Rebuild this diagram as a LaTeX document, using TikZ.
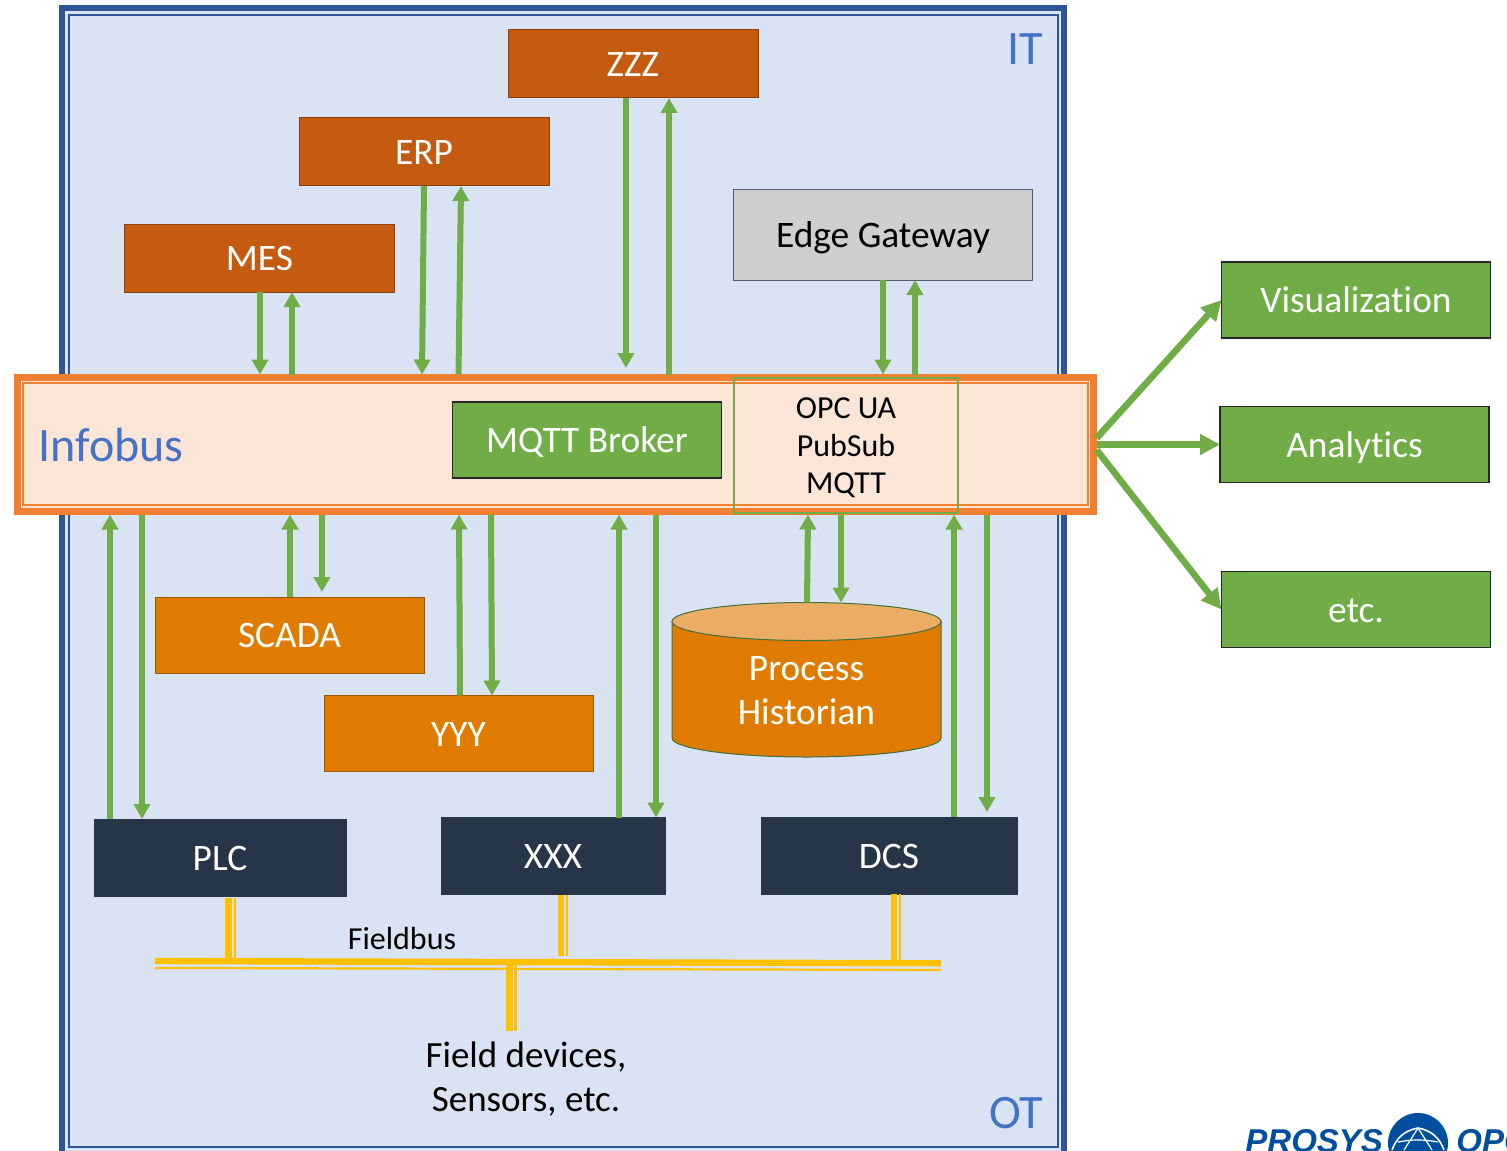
\documentclass[tikz,border=0pt]{standalone}
\usepackage{fontspec}
\setmainfont{Carlito}[Ligatures=NoCommon]
\newfontfamily\logofont{Liberation Sans}
\usetikzlibrary{arrows.meta}
\definecolor{itblue}{HTML}{2F5597}
\definecolor{itfill}{HTML}{DAE3F3}
\definecolor{textblue}{HTML}{4472C4}
\definecolor{busorange}{HTML}{F07F2F}
\definecolor{busfill}{HTML}{FBE5D6}
\definecolor{flowgreen}{HTML}{70AD47}
\definecolor{rustbox}{HTML}{C55A11}
\definecolor{orangebox}{HTML}{DF7C00}
\definecolor{orangetop}{HTML}{EAAD63}
\definecolor{darkbox}{HTML}{263648}
\definecolor{greybox}{HTML}{D0CECE}
\definecolor{fieldyellow}{HTML}{FFC000}
\definecolor{logoblue}{HTML}{004F9F}
\tikzset{
  box/.style={rectangle, draw, line width=.5pt, outer sep=0pt, inner sep=0pt, text=white, font=\fontsize{18.7}{18.7}\selectfont, text height=15.5pt, text depth=3pt},
  rustnode/.style={box, fill=rustbox, draw=rustbox!70!black, minimum height=34pt},
  orangenode/.style={box, fill=orangebox, draw=orangebox!70!black, minimum width=134.5pt, minimum height=38pt},
  darknode/.style={box, fill=darkbox, draw=darkbox, minimum height=38.5pt},
  greennode/.style={box, fill=flowgreen, draw=black!85, line width=.7pt, minimum width=134.5pt, minimum height=38pt},
  flow/.style={draw=flowgreen, line width=3pt, -{Triangle[length=7.5pt,width=8pt]}},
  bigflow/.style={draw=flowgreen, line width=3.3pt, -{Triangle[length=10pt,width=10pt]}},
  label/.style={inner sep=0pt, font=\fontsize{16}{16}\selectfont},
  bluelabel/.style={inner sep=0pt, text=textblue, font=\fontsize{24}{24}\selectfont},
  histline/.style={draw=green!25!black!75, line width=.5pt},
  buswide/.style={draw=fieldyellow, line width=3.2pt},
  busthin/.style={draw=fieldyellow, line width=1.1pt}
}
\begin{document}
\begin{tikzpicture}[x=.5pt, y=-.5pt]
  \useasboundingbox (0,0) rectangle (1507,1150);
  \clip (0,0) rectangle (1507,1150);

  \fill[itfill] (62,8) rectangle (1064,1170);
  \draw[itblue, line width=3.2pt] (62,8) rectangle (1064,1170);
  \draw[itblue, line width=1pt] (69,15) rectangle (1058,1147);
  \node[bluelabel] (it) at (1025,49) {IT};
  \node[bluelabel] (ot) at (1016,1113) {OT};

  \node[rustnode, minimum width=125pt] (zzz) at (633,64) {ZZZ};
  \node[rustnode, minimum width=125pt] (erp) at (424,152) {ERP};
  \node[rustnode, minimum width=135pt] (mes) at (259.5,258) {MES};
  \node[box, fill=greybox, draw=darkbox!80, text=black, minimum width=149.5pt, minimum height=45pt] (edge) at (883,235) {Edge Gateway};

  \node[rectangle, draw=busorange, fill=busfill, line width=3.25pt, outer sep=1.6pt, minimum width=538pt, minimum height=66.8pt] (infobus) at (555.5,444.5) {};
  \draw[busorange, line width=1pt] (23,383) rectangle (1088,505);
  \node[bluelabel] (infotext) at (111,445) {Infobus};
  \node[box, fill=flowgreen, draw=black!85, line width=.7pt, minimum width=134.5pt, minimum height=38pt] (mqtt) at (587,440) {MQTT Broker};
  \node[rectangle, draw=flowgreen, line width=.8pt, minimum width=112pt, minimum height=67.5pt, inner sep=0pt] (opc) at (846,445.5) {};
  \node[label] (opca) at (846,408) {OPC UA};
  \node[label] (opcb) at (846,446) {PubSub};
  \node[label] (opcc) at (846,485.5) {MQTT};

  \node[orangenode] (scada) at (289.5,635) {SCADA};
  \node[orangenode] (yyy) at (458.5,733.5) {YYY};
  \node[inner sep=0pt, outer sep=0pt, minimum width=134.5pt, minimum height=77pt] (historian) at (806.5,679.5) {};
  \draw[histline, fill=orangebox] (672,621.5) -- (672,738) arc[x radius=134.5, y radius=19, start angle=180, end angle=0] -- (941,621.5) -- cycle;
  \draw[histline, fill=orangetop] (806.5,621.5) ellipse [x radius=134.5, y radius=19];
  \node[label, text=white, font=\fontsize{18.7}{22}\selectfont, align=center] (histtext) at (806.5,691) {Process\\Historian};

  \node[darknode, minimum width=126pt] (plc) at (220,857.5) {PLC};
  \node[darknode, minimum width=112pt] (xxx) at (553,856) {XXX};
  \node[darknode, minimum width=128pt] (dcs) at (889,855.5) {DCS};

  \node[greennode] (vis) at (1356,300) {Visualization};
  \node[greennode] (analytics) at (1354.5,444.5) {Analytics};
  \node[greennode] (etc) at (1356,609.5) {etc.};

  \draw[flow] (260,0 |- mes.south) -- (260,0 |- infobus.north);
  \draw[flow] (292,0 |- infobus.north) -- (292,0 |- mes.south);
  \draw[flow] (424,0 |- erp.south) -- (422,0 |- infobus.north);
  \draw[flow] (458.5,0 |- infobus.north) -- (461,0 |- erp.south);
  \draw[flow] (626,0 |- zzz.south) -- (626,368);
  \draw[flow] (669,0 |- infobus.north) -- (669,0 |- zzz.south);
  \draw[flow] (883,0 |- edge.south) -- (883,0 |- infobus.north);
  \draw[flow] (915,0 |- infobus.north) -- (915,0 |- edge.south);

  \draw[flow] (110,0 |- plc.north) -- (110,0 |- infobus.south);
  \draw[flow] (142,0 |- infobus.south) -- (142,0 |- plc.north);
  \draw[flow] (290,0 |- scada.north) -- (290,0 |- infobus.south);
  \draw[flow] (322,0 |- infobus.south) -- (322,592);
  \draw[flow] (460,0 |- yyy.north) -- (459,0 |- infobus.south);
  \draw[flow] (491,0 |- infobus.south) -- (492,0 |- yyy.north);
  \draw[flow] (619,0 |- xxx.north) -- (619,0 |- infobus.south);
  \draw[flow] (656,0 |- infobus.south) -- (656,0 |- xxx.north);
  \draw[flow] (807,0 |- historian.north) -- (808,0 |- infobus.south);
  \draw[flow] (841,0 |- infobus.south) -- (841,0 |- historian.north);
  \draw[flow] (954,0 |- dcs.north) -- (954,0 |- infobus.south);
  \draw[flow] (987,0 |- infobus.south) -- (987,812);

  \draw[bigflow] (infobus.east |- 0,438) -- (vis.west);
  \draw[bigflow] (infobus.east |- analytics.west) -- (analytics.west);
  \draw[bigflow] (infobus.east |- 0,450) -- (etc.west);

  \coordinate (busleft) at (155,961);
  \coordinate (busright) at (941,963.3);
  \draw[buswide] (busleft) -- (busright);
  \draw[busthin] (155,967.9) -- (941,970);
  \node[label] (fieldbus) at (402,938) {Fieldbus};
  \node[label, font=\fontsize{18.5}{22}\selectfont, align=center] (devices) at (526,1079) {Field devices,\\Sensors, etc.};

  \draw[buswide] (228.5,898) -- (228.5,0 |- busleft);
  \draw[busthin] (234.8,898) -- (234.8,0 |- busleft);
  \draw[buswide] (561,0 |- xxx.south) -- (561,956);
  \draw[busthin] (567.2,0 |- xxx.south) -- (567.2,956);
  \draw[buswide] (894,0 |- dcs.south) -- (894,0 |- busright);
  \draw[busthin] (900,0 |- dcs.south) -- (900,0 |- busright);
  \draw[buswide] (509.3,0 |- busleft) -- (509.3,1031);
  \draw[busthin] (515.5,0 |- busleft) -- (515.5,1031);

  \node[inner sep=0pt, anchor=base west, text=logoblue, font=\logofont\bfseries\itshape\fontsize{16.5}{16.5}\selectfont] (prosys) at (1245,1152) {PROSYS};
  \node[circle, fill=logoblue, minimum size=30pt, inner sep=0pt] (globe) at (1418,1143) {};
  \draw[white, line width=.8pt] (1392,1150) to[bend left=30] (1418,1128) to[bend left=30] (1444,1150);
  \draw[white, line width=.6pt] (1418,1128) -- (1404,1150) (1418,1128) -- (1432,1150) (1398,1142) to[bend left=10] (1438,1142);
  \node[inner sep=0pt, anchor=base west, text=logoblue, font=\logofont\bfseries\itshape\fontsize{16.5}{16.5}\selectfont] (opclogo) at (1456,1152) {OPC};
\end{tikzpicture}
\end{document}
